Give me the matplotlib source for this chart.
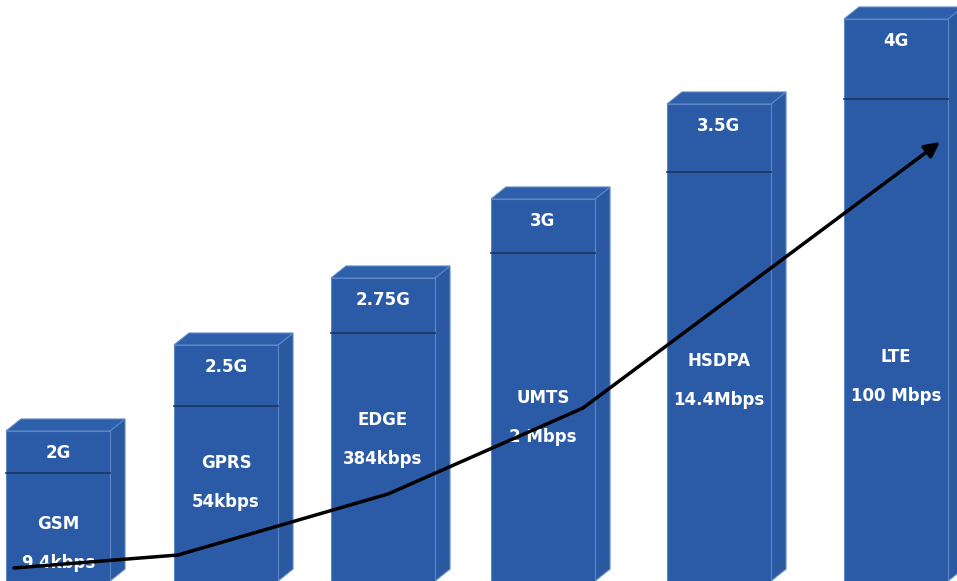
"""
Mobile generations chart: 3D-looking bars with a rising speed arrow.
"""

import matplotlib
matplotlib.use("Agg")
import matplotlib.pyplot as plt
from matplotlib.patches import Polygon, Rectangle

# === chart data ===
generations = ["2G", "2.5G", "2.75G", "3G", "3.5G", "4G"]
technologies = ["GSM", "GPRS", "EDGE", "UMTS", "HSDPA", "LTE"]
speeds = ["9.4kbps", "54kbps", "384kbps", "2 Mbps", "14.4Mbps", "100 Mbps"]
bar_heights = [150, 236, 303, 382, 477, 562]
top_band = [42, 61, 55, 54, 68, 80]        # height of the generation band
name_heights = [57, 118, 161, 183, 220, 224]

# trend arrow points (x in picture units, y in bar units)
trend_x = [14, 178, 388, 583, 940]
trend_y = [13, 26, 87, 173, 439]

# === layout ===
BAR_CENTERS = [58, 226, 383, 543, 719, 896]
BAR_W = 104
DX, DY = 15, 12

FRONT = "#2b5ba6"
SIDE = "#2a59a2"
TOP = "#2d5fab"
EDGE = "#5d86c4"
SEP = "#1c3461"


def draw_bar(ax, cx, h, band):
    x0 = cx - BAR_W / 2
    x1 = cx + BAR_W / 2
    ax.add_patch(Polygon([(x1, 0), (x1 + DX, DY), (x1 + DX, h + DY), (x1, h)],
                         closed=True, facecolor=SIDE, edgecolor=EDGE, lw=0.8, zorder=2))
    ax.add_patch(Polygon([(x0, h), (x1, h), (x1 + DX, h + DY), (x0 + DX, h + DY)],
                         closed=True, facecolor=TOP, edgecolor=EDGE, lw=0.8, zorder=2))
    ax.add_patch(Rectangle((x0, 0), BAR_W, h, facecolor=FRONT,
                           edgecolor=EDGE, lw=0.8, zorder=3))
    ax.plot([x0, x1], [h - band, h - band], color=SEP, lw=1.2, zorder=4)


def main():
    plt.rcParams["font.family"] = ["DejaVu Sans"]
    fig = plt.figure(figsize=(9.57, 5.81), dpi=100)
    ax = fig.add_axes([0, 0, 1, 1])
    ax.set_xlim(0, 957)
    ax.set_ylim(0, 581)
    ax.axis("off")

    txt = dict(color="white", fontsize=12, fontweight="bold",
               ha="center", va="center", zorder=5)
    for i, h in enumerate(bar_heights):
        cx = BAR_CENTERS[i]
        draw_bar(ax, cx, h, top_band[i])
        ax.text(cx, h - 22, generations[i], **txt)
        ax.text(cx, name_heights[i], technologies[i], **txt)
        ax.text(cx, name_heights[i] - 39, speeds[i], **txt)

    ax.plot(trend_x[:-1], trend_y[:-1], color="black", lw=2.5, zorder=6,
            solid_capstyle="round", solid_joinstyle="round")
    ax.annotate("", xy=(trend_x[-1], trend_y[-1]), xytext=(trend_x[-2], trend_y[-2]),
                arrowprops=dict(arrowstyle="-|>,head_length=0.9,head_width=0.45",
                                color="black", lw=2.5, shrinkA=0, shrinkB=0),
                zorder=6)

    fig.savefig("out.png", dpi=100)


if __name__ == "__main__":
    main()
